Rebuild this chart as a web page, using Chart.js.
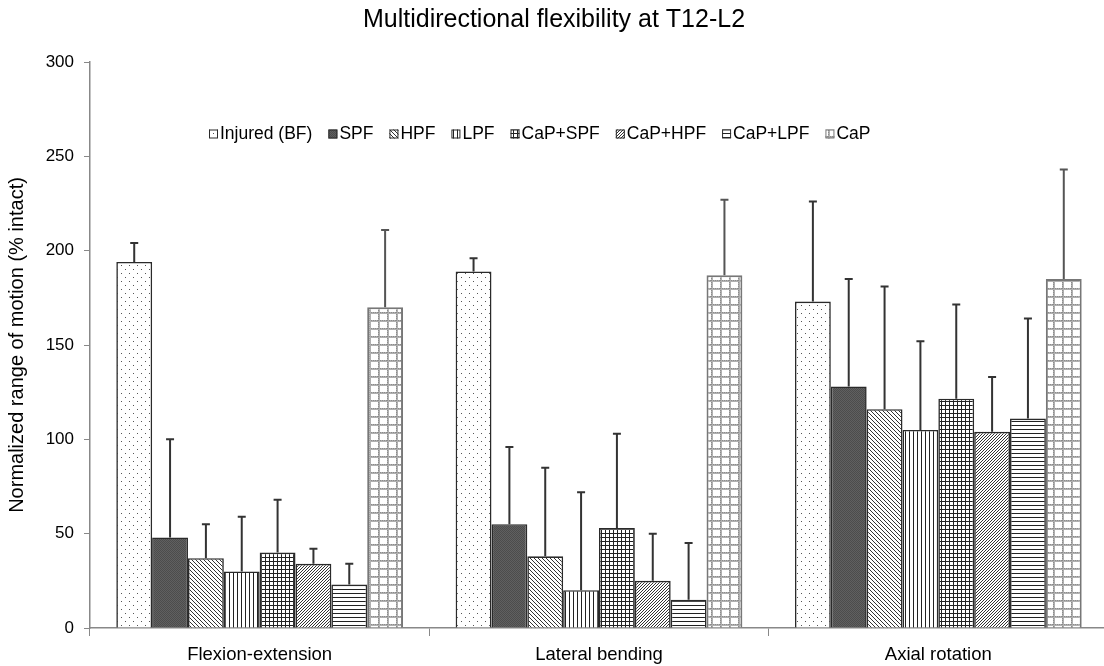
<!DOCTYPE html>
<html>
<head>
<meta charset="utf-8">
<script src="https://cdn.jsdelivr.net/npm/chart.js@4.4.1/dist/chart.umd.min.js"></script>
<style>
  html, body { margin: 0; padding: 0; background: #fff; overflow: hidden; }
  #wrap { position: relative; width: 1110px; height: 666px; }
</style>
</head>
<body>
<div id="wrap"><canvas id="c"></canvas></div>
<script>
// ---- data ----
const categories = ['Flexion-extension', 'Lateral bending', 'Axial rotation'];
const seriesNames = ['Injured (BF)', 'SPF', 'HPF', 'LPF', 'CaP+SPF', 'CaP+HPF', 'CaP+LPF', 'CaP'];
const injured   = [194, 189, 173];
const spf       = [48, 55, 128];
const hpf       = [37, 38, 116];
const lpf       = [30, 20, 105];
const capSpf    = [40, 53, 121.5];
const capHpf    = [34, 25, 104];
const capLpf    = [23, 15, 111];
const cap       = [170, 187, 185];
// upper standard deviations (one-sided error bars)
const injuredSD = [10, 7, 53];
const spfSD     = [52, 41, 57];
const hpfSD     = [18, 47, 65];
const lpfSD     = [29, 52, 47];
const capSpfSD  = [28, 50, 50];
const capHpfSD  = [8, 25, 29];
const capLpfSD  = [11, 30, 53];
const capSD     = [41, 40, 58];
const yTicks = [0, 50, 100, 150, 200, 250, 300];

const values = [injured, spf, hpf, lpf, capSpf, capHpf, capLpf, cap];
const errors = [injuredSD, spfSD, hpfSD, lpfSD, capSpfSD, capHpfSD, capLpfSD, capSD];

const FONT = '"Liberation Sans", Arial, sans-serif';

// ---- patterns ----
function mk(w, h, draw) {
  const c = document.createElement('canvas');
  c.width = w; c.height = h;
  const g = c.getContext('2d');
  draw(g, w, h);
  return g.createPattern(c, 'repeat');
}
const patterns = [
  mk(8, 8, (g) => { g.fillStyle = '#fff'; g.fillRect(0,0,8,8); g.fillStyle = '#555'; g.fillRect(1,1,1,1); g.fillRect(5,5,1,1); }),
  mk(2, 2, (g) => { g.fillStyle = '#606060'; g.fillRect(0,0,2,2); g.fillStyle = '#4c4c4c'; g.fillRect(0,0,1,1); g.fillRect(1,1,1,1); }),
  mk(4, 4, (g) => { g.fillStyle = '#fff'; g.fillRect(0,0,4,4); g.fillStyle = '#333'; for (let i=0;i<4;i++) g.fillRect(i,i,1,1); }),
  mk(4, 4, (g) => { g.fillStyle = '#fff'; g.fillRect(0,0,4,4); g.fillStyle = '#222'; g.fillRect(1,0,1,4); }),
  mk(4, 4, (g) => { g.fillStyle = '#fff'; g.fillRect(0,0,4,4); g.fillStyle = '#222'; g.fillRect(1,0,1,4); g.fillRect(0,1,4,1); }),
  mk(3, 3, (g) => { g.fillStyle = '#fff'; g.fillRect(0,0,3,3); g.fillStyle = '#333'; for (let i=0;i<3;i++) g.fillRect(2-i,i,1,1); }),
  mk(4, 4, (g) => { g.fillStyle = '#fff'; g.fillRect(0,0,4,4); g.fillStyle = '#222'; g.fillRect(0,1,4,1); }),
  mk(9, 8, (g) => { g.fillStyle = '#fff'; g.fillRect(0,0,9,8);
       g.fillStyle = '#b0b0b0'; g.fillRect(0,0,2,8); g.fillRect(0,0,9,2);
       g.fillStyle = '#8c8c8c'; for (let y=0;y<8;y+=2) g.fillRect(0,y,1,1); for (let x=0;x<9;x+=2) g.fillRect(x,0,1,1); })
];
const borders = ['#2a2a2a','#2a2a2a','#2a2a2a','#2a2a2a','#2a2a2a','#2a2a2a','#2a2a2a','#777'];

const datasets = seriesNames.map((name, i) => ({
  label: name,
  data: values[i],
  sd: errors[i],
  backgroundColor: patterns[i],
  borderColor: borders[i],
  borderWidth: i === 7 ? 2 : 1.6,
  borderSkipped: 'bottom',
  categoryPercentage: 0.845,
  barPercentage: 1.0
}));

// ---- error bars (drawn through the y scale) ----
const errorBars = {
  id: 'errorBars',
  afterDatasetsDraw(chart) {
    const ctx = chart.ctx;
    const y = chart.scales.y;
    ctx.save();
    chart.data.datasets.forEach((ds, di) => {
      const meta = chart.getDatasetMeta(di);
      meta.data.forEach((el, i) => {
        const top = y.getPixelForValue(ds.data[i] + ds.sd[i]);
        ctx.strokeStyle = di === 7 ? '#555' : '#333';
        ctx.lineWidth = 2;
        ctx.beginPath();
        ctx.moveTo(el.x, el.y);
        ctx.lineTo(el.x, top);
        ctx.moveTo(el.x - 4, top);
        ctx.lineTo(el.x + 4, top);
        ctx.stroke();
      });
    });
    ctx.restore();
  }
};

// ---- legend inside plot area ----
const innerLegend = {
  id: 'innerLegend',
  afterDraw(chart) {
    const ctx = chart.ctx;
    const cy = 134;
    let x = 209;
    ctx.save();
    ctx.font = '17.5px ' + FONT;
    ctx.textBaseline = 'middle';
    chart.data.datasets.forEach((ds) => {
      const bs = 9;
      ctx.fillStyle = ds.backgroundColor;
      ctx.fillRect(x, cy - bs/2, bs, bs);
      ctx.strokeStyle = ds.borderColor;
      ctx.lineWidth = 1;
      ctx.strokeRect(x + 0.5, cy - bs/2 + 0.5, bs - 1, bs - 1);
      ctx.fillStyle = '#000';
      const tx = x + bs + 2;
      ctx.fillText(ds.label, tx, cy);
      x = tx + ctx.measureText(ds.label).width + 16;
    });
    ctx.restore();
  }
};

new Chart(document.getElementById('c'), {
  type: 'bar',
  data: { labels: categories, datasets },
  plugins: [errorBars, innerLegend],
  options: {
    responsive: true,
    maintainAspectRatio: false,
    animation: false,
    devicePixelRatio: 1,
    layout: { padding: { left: 0, right: 2, top: 0, bottom: 0 } },
    plugins: {
      legend: { display: false },
      tooltip: { enabled: false },
      title: {
        display: true,
        text: 'Multidirectional flexibility at T12-L2',
        color: '#000',
        font: { family: FONT, size: 25, weight: 'normal' },
        padding: { top: 5, bottom: 27 }
      }
    },
    scales: {
      x: {
        offset: true,
        grid: { display: true, drawOnChartArea: false, drawTicks: true, tickLength: 8, color: '#888', offset: true },
        border: { display: true, color: '#888', width: 1.5 },
        ticks: { color: '#000', padding: 8, font: { family: FONT, size: 18.5 } },
        afterFit(s) { s.height = 38; }
      },
      y: {
        min: 0, max: 300,
        afterBuildTicks(s) { s.ticks = yTicks.map(v => ({ value: v })); },
        grid: { display: true, drawOnChartArea: false, drawTicks: true, tickLength: 6, color: '#888' },
        border: { display: true, color: '#888', width: 1.5 },
        ticks: { color: '#000', padding: 10, font: { family: FONT, size: 17 } },
        title: {
          display: true,
          text: 'Normalized range of motion (% intact)',
          color: '#000',
          font: { family: FONT, size: 20 },
          padding: { top: 5, bottom: 0 }
        },
        afterFit(s) { s.width = 90; }
      }
    }
  }
});
</script>
</body>
</html>
